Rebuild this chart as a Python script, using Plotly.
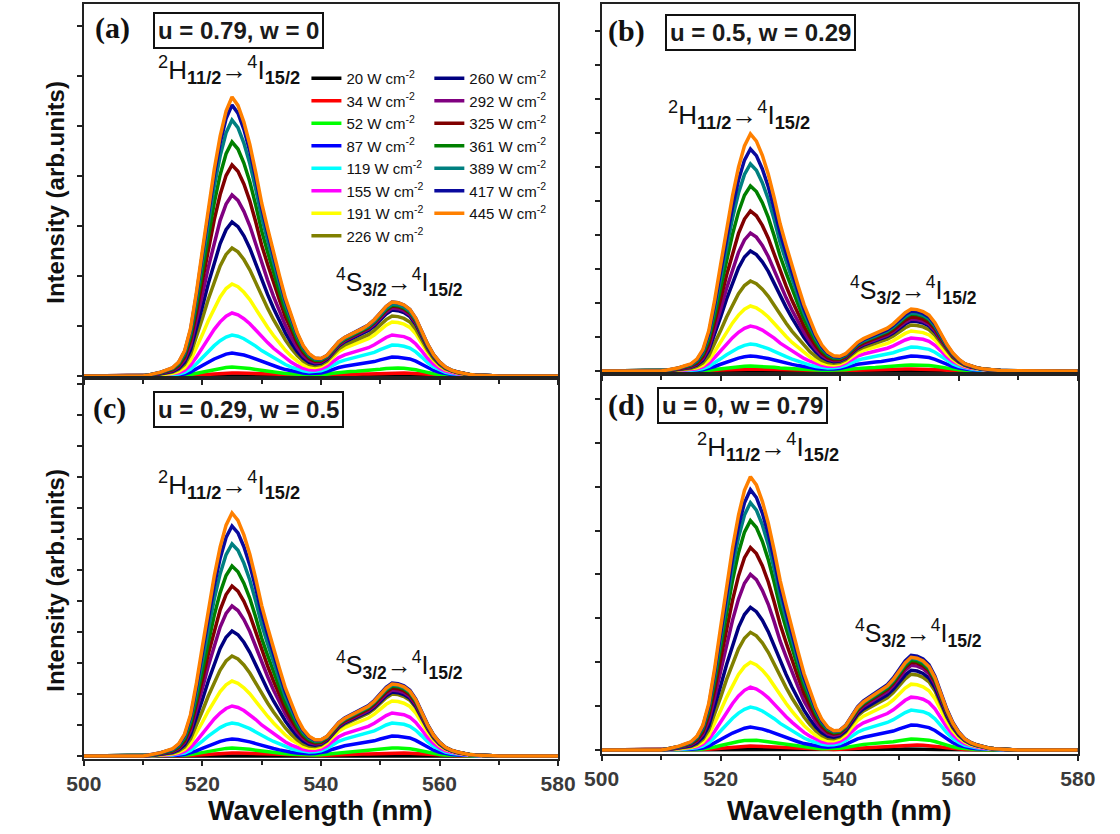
import plotly.graph_objects as go

# ---------------- data ----------------
wavelength = list(range(500, 581))

# normalised band profiles (1 nm steps, 500..580 nm)
H_profile = ([0.0] * 11 +
             [0.004, 0.008, 0.014, 0.022, 0.03, 0.05, 0.09, 0.17, 0.30, 0.45,
              0.60, 0.74, 0.86, 0.95, 1.00, 0.97, 0.91, 0.83, 0.73, 0.62,
              0.53, 0.44, 0.36, 0.28, 0.21, 0.15, 0.10, 0.065, 0.042, 0.028,
              0.018, 0.011, 0.006, 0.003] +
             [0.0] * 36)
S_profile = ([0.0] * 35 +
             [0.01, 0.02, 0.035, 0.055, 0.085, 0.13, 0.21, 0.33, 0.44, 0.51,
              0.56, 0.60, 0.64, 0.69, 0.76, 0.85, 0.94, 1.00, 0.99, 0.96,
              0.90, 0.78, 0.61, 0.43, 0.29, 0.19, 0.12, 0.08, 0.055, 0.035,
              0.022, 0.014, 0.008, 0.005, 0.003] +
             [0.0] * 11)

power_density = [20, 34, 52, 87, 119, 155, 191, 226, 260, 292, 325, 361, 389, 417, 445]
series_colors = ['#000000', '#FF0000', '#00FF00', '#0000FF', '#00FFFF', '#FF00FF', '#FFFF00',
                 '#808000', '#000080', '#800080', '#800000', '#008000', '#008080', '#0A0A9E',
                 '#FF8000']

# peak heights (arb. units) of the 2H11/2 and 4S3/2 bands for each power density
H_amp_a = [0.5, 3, 9, 23, 41, 63, 92, 128, 154, 181, 211, 234, 256, 271, 279]
S_amp_a = [0.5, 3, 8, 19, 31, 41, 54, 60, 66, 68, 70, 71, 72, 74, 74]
H_amp_b = [0.5, 2, 5, 15, 27, 45, 65, 90, 120, 138, 160, 185, 207, 222, 237]
S_amp_b = [0.5, 2, 6, 15, 24, 33, 40, 46, 50, 52, 54, 57, 58, 60, 62]
H_amp_c = [0.5, 3, 8, 17, 33, 50, 75, 100, 125, 150, 170, 190, 212, 230, 243]
S_amp_c = [0.5, 3, 8, 20, 33, 43, 55, 62, 64, 66, 68, 70, 71, 73, 72]
H_amp_d = [0.5, 4, 10, 23, 43, 63, 88, 118, 143, 176, 203, 230, 248, 261, 274]
S_amp_d = [1, 5, 11, 25, 40, 53, 66, 76, 80, 85, 88, 90, 92, 95, 93]

panel_names = ['(a)', '(b)', '(c)', '(d)']
composition_labels = ['u = 0.79, w = 0', 'u = 0.5, w = 0.29', 'u = 0.29, w = 0.5', 'u = 0, w = 0.79']
x_ticks = [500, 520, 540, 560, 580]
H_label = '<sup>2</sup>H<sub><b>11/2</b></sub>→<sup>4</sup>I<sub><b>15/2</b></sub>'
S_label = '<sup>4</sup>S<sub><b>3/2</b></sub>→<sup>4</sup>I<sub><b>15/2</b></sub>'

# ---------------- figure ----------------
W, H = 1120, 834
def px(x):
    return x / W
def py(y):
    return 1 - y / H

fig = go.Figure()

panels = [
    ('x', 'y', H_amp_a, S_amp_a),
    ('x2', 'y2', H_amp_b, S_amp_b),
    ('x3', 'y3', H_amp_c, S_amp_c),
    ('x4', 'y4', H_amp_d, S_amp_d),
]
for pi, (xa, ya, ha, sa) in enumerate(panels):
    for i, p in enumerate(power_density):
        yv = [ha[i] * h + sa[i] * s for h, s in zip(H_profile, S_profile)]
        fig.add_trace(go.Scatter(
            x=wavelength, y=yv, mode='lines', xaxis=xa, yaxis=ya,
            line=dict(color=series_colors[i], width=3.5),
            name=f'{p} W cm<sup>-2</sup>',
            showlegend=(pi == 0),
            legend='legend' if i < 8 else 'legend2',
            hoverinfo='skip'))

axis_line = dict(showline=True, mirror=True, linecolor='#222222', linewidth=2,
                 ticks='outside', tickcolor='#222222', tickwidth=1.5, ticklen=5,
                 showgrid=False, zeroline=False)

xl = [px(68), px(558)]
xr = [px(603), px(1095)]
dom = {
    'a': (xl, [py(378), py(4)]),
    'b': (xr, [py(374), py(4)]),
    'c': (xl, [py(759), py(378)]),
    'd': (xr, [py(754), py(374)]),
}
yranges = {'a': [-2, 372], 'b': [-3, 367], 'c': [-3, 378], 'd': [-4, 377]}
ydt = {'a': 50, 'b': 34, 'c': 31, 'd': 44}
keys = ['a', 'b', 'c', 'd']
layout = dict(width=W, height=H, margin=dict(l=0, r=0, t=0, b=0),
              paper_bgcolor='white', plot_bgcolor='white', showlegend=True)
for k, key in enumerate(keys):
    sfx = '' if k == 0 else str(k + 1)
    xd, yd = dom[key]
    bottom = key in ('c', 'd')
    layout['xaxis' + sfx] = dict(
        domain=xd, range=[500, 580], anchor='y' + sfx, tickvals=x_ticks,
        showticklabels=bottom,
        tickfont=dict(family='Liberation Sans, Arial', size=21, color='#3a3a3a', weight='bold'),
        minor=dict(dtick=10, ticks='outside', ticklen=4, tickcolor='#222222'),
        **axis_line)
    layout['yaxis' + sfx] = dict(
        domain=yd, range=yranges[key], anchor='x' + sfx, showticklabels=False,
        tick0=0, dtick=ydt[key], **axis_line)

legend_font = dict(family='Liberation Sans Narrow, Liberation Sans, Arial', size=15, color='#111111')
layout['legend'] = dict(x=px(298), y=py(62), xanchor='left', yanchor='top',
                        bgcolor='rgba(0,0,0,0)', tracegroupgap=0, itemwidth=30, font=legend_font)
layout['legend2'] = dict(x=px(425), y=py(62), xanchor='left', yanchor='top',
                         bgcolor='rgba(0,0,0,0)', tracegroupgap=0, itemwidth=30, font=legend_font)
fig.update_layout(**layout)

ann = []
label_pos = [(77, 28), (608, 31), (75, 408), (608, 405)]
box_pos = [(139, 30), (668, 33), (139, 409), (660, 405)]
H_pos = [(218, 70), (745, 115), (218, 485), (775, 447)]
S_pos = [(394, 282), (925, 290), (394, 665), (930, 633)]
for k in range(4):
    ann.append(dict(x=px(label_pos[k][0]), y=py(label_pos[k][1]), xref='paper', yref='paper',
                    xanchor='left', yanchor='middle', showarrow=False, text=panel_names[k],
                    font=dict(family='Liberation Serif, Times New Roman', size=30,
                              color='#111111', weight='bold')))
    ann.append(dict(x=px(box_pos[k][0]), y=py(box_pos[k][1]), xref='paper', yref='paper',
                    xanchor='left', yanchor='middle', showarrow=False, text=composition_labels[k],
                    bordercolor='#111111', borderwidth=2, borderpad=3, bgcolor='white',
                    font=dict(family='Liberation Sans, Arial', size=24, color='#1a1a1a',
                              weight='bold')))
    ann.append(dict(x=px(H_pos[k][0]), y=py(H_pos[k][1]), xref='paper', yref='paper',
                    xanchor='center', yanchor='middle', showarrow=False, text=H_label,
                    font=dict(family='Liberation Sans, Arial', size=26, color='#111111')))
    ann.append(dict(x=px(S_pos[k][0]), y=py(S_pos[k][1]), xref='paper', yref='paper',
                    xanchor='center', yanchor='middle', showarrow=False, text=S_label,
                    font=dict(family='Liberation Sans, Arial', size=25, color='#111111')))

for yc in (192, 580):
    ann.append(dict(x=px(38), y=py(yc), xref='paper', yref='paper', textangle=-90,
                    xanchor='center', yanchor='middle', showarrow=False,
                    text='Intensity (arb.units)',
                    font=dict(family='Liberation Sans, Arial', size=24, color='#111111',
                              weight='bold')))
for xc in (313, 849):
    ann.append(dict(x=px(xc), y=py(810), xref='paper', yref='paper',
                    xanchor='center', yanchor='middle', showarrow=False,
                    text='Wavelength (nm)',
                    font=dict(family='Liberation Sans, Arial', size=28, color='#111111',
                              weight='bold')))
fig.update_layout(annotations=ann)

fig.write_html('out.html')
